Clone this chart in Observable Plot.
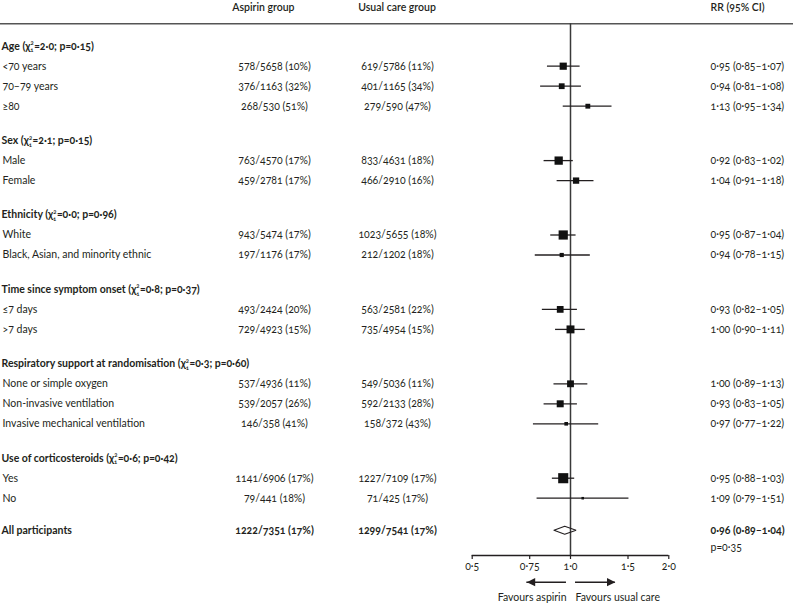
<!DOCTYPE html>
<html><head><meta charset="utf-8">
<script src="https://cdn.jsdelivr.net/npm/d3@7"></script>
<script src="https://cdn.jsdelivr.net/npm/@observablehq/plot@0.6"></script>
<style>
html,body{margin:0;padding:0;background:#fff;}
#chart svg{display:block;}
#chart svg text{font-variant-numeric:oldstyle-nums;}
</style></head><body><div id="chart"></div>
<script>
// ---------------- data ----------------
const columnHeaders = ["Aspirin group", "Usual care group", "RR (95% CI)"];
const groupHeadings = [
  "Age (χ²₁=2·0; p=0·15)",
  "Sex (χ²₁=2·1; p=0·15)",
  "Ethnicity (χ²₁=0·0; p=0·96)",
  "Time since symptom onset (χ²₁=0·8; p=0·37)",
  "Respiratory support at randomisation (χ²₁=0·3; p=0·60)",
  "Use of corticosteroids (χ²₁=0·6; p=0·42)"
];
const subgroupLabels = [
  ["<70 years", "70–79 years", "≥80"],
  ["Male", "Female"],
  ["White", "Black, Asian, and minority ethnic"],
  ["≤7 days", ">7 days"],
  ["None or simple oxygen", "Non-invasive ventilation", "Invasive mechanical ventilation"],
  ["Yes", "No"]
];
const aspirinEvents = [[578, 376, 268], [763, 459], [943, 197], [493, 729], [537, 539, 146], [1141, 79]];
const aspirinTotals = [[5658, 1163, 530], [4570, 2781], [5474, 1176], [2424, 4923], [4936, 2057, 358], [6906, 441]];
const aspirinPct    = [[10, 32, 51], [17, 17], [17, 17], [20, 15], [11, 26, 41], [17, 18]];
const usualEvents   = [[619, 401, 279], [833, 466], [1023, 212], [563, 735], [549, 592, 158], [1227, 71]];
const usualTotals   = [[5786, 1165, 590], [4631, 2910], [5655, 1202], [2581, 4954], [5036, 2133, 372], [7109, 425]];
const usualPct      = [[11, 34, 47], [18, 16], [18, 18], [22, 15], [11, 28, 43], [17, 17]];
const rrEstimate    = [[0.95, 0.94, 1.13], [0.92, 1.04], [0.95, 0.94], [0.93, 1.00], [1.00, 0.93, 0.97], [0.95, 1.09]];
const rrLower       = [[0.85, 0.81, 0.95], [0.83, 0.91], [0.87, 0.78], [0.82, 0.90], [0.89, 0.83, 0.77], [0.88, 0.79]];
const rrUpper       = [[1.07, 1.08, 1.34], [1.02, 1.18], [1.04, 1.15], [1.05, 1.11], [1.13, 1.05, 1.22], [1.03, 1.51]];

const overallLabel = "All participants";
const overallAspirin = [1222, 7351, 17];   // events, total, %
const overallUsual = [1299, 7541, 17];
const overallRR = [0.96, 0.89, 1.04];      // estimate, lower, upper
const overallP = "p=0·35";

const xTicks = [0.5, 0.75, 1, 1.5, 2];
const xTickLabels = ["0·5", "0·75", "1·0", "1·5", "2·0"];
const favoursLabels = ["Favours aspirin", "Favours usual care"];
const favoursArrowFrom = [0.972, 1.036];
const favoursArrowTo = [0.735, 1.372];

// ---------------- layout ----------------
const W = 793, H = 603;
const mL = 471.7, mR = 124.7, mT = 23.3, mB = 48;
const rowPx = 20, firstRowPx = 45.7;
const groupGap = 1.72, overallGap = 1.6;
const yDomain = [(mT - firstRowPx) / rowPx, (H - mB - firstRowPx) / rowPx];
const toU = px => (px - firstRowPx) / rowPx;
const ink = "#231f20";
const fmt = v => v.toFixed(2).replace(".", "·");
const fs = 10.5;

const headings = [], rows = [];
let u = 0;
groupHeadings.forEach((h, gi) => {
  if (gi > 0) u += groupGap;
  headings.push({u, label: h});
  subgroupLabels[gi].forEach((lab, si) => {
    u += 1;
    rows.push({
      u, label: lab,
      asp: `${aspirinEvents[gi][si]}/${aspirinTotals[gi][si]} (${aspirinPct[gi][si]}%)`,
      usu: `${usualEvents[gi][si]}/${usualTotals[gi][si]} (${usualPct[gi][si]}%)`,
      rr: rrEstimate[gi][si], lo: rrLower[gi][si], hi: rrUpper[gi][si],
      events: aspirinEvents[gi][si] + usualEvents[gi][si],
      rrText: `${fmt(rrEstimate[gi][si])} (${fmt(rrLower[gi][si])}–${fmt(rrUpper[gi][si])})`
    });
  });
});
const uAll = u + overallGap;
const overall = [{
  u: uAll, label: overallLabel,
  asp: `${overallAspirin[0]}/${overallAspirin[1]} (${overallAspirin[2]}%)`,
  usu: `${overallUsual[0]}/${overallUsual[1]} (${overallUsual[2]}%)`,
  rrText: `${fmt(overallRR[0])} (${fmt(overallRR[1])}–${fmt(overallRR[2])})`
}];
const dh = 0.2;
const diamond = [
  {x: overallRR[1], y: uAll}, {x: overallRR[0], y: uAll - dh},
  {x: overallRR[2], y: uAll}, {x: overallRR[0], y: uAll + dh},
  {x: overallRR[1], y: uAll}
];
const headerU = toU(7.5);
const arrowU = toU(581.7);
const favU = toU(597);
const arrows = favoursLabels.map((l, i) => ({label: l, from: favoursArrowFrom[i], to: favoursArrowTo[i]}));

const headRight = {draw(ctx, size) { const l = Math.sqrt(size); ctx.moveTo(0, 0); ctx.lineTo(-l, -l / 2); ctx.lineTo(-l, l / 2); ctx.closePath(); }};
const headLeft = {draw(ctx, size) { const l = Math.sqrt(size); ctx.moveTo(0, 0); ctx.lineTo(l, -l / 2); ctx.lineTo(l, l / 2); ctx.closePath(); }};

const colAsp = 274 - mL, colUsu = 397 - mL, colLab = 2 - mL, colRR = 710 - (W - mR);

// stack the χ² superscript over the ₁ subscript in the group headings
function stackChi(index, scales, values, dimensions, context, next) {
  const g = next(index, scales, values, dimensions, context);
  const ns = "http://www.w3.org/2000/svg";
  g.querySelectorAll("text").forEach(t => {
    const s = t.textContent;
    const k = s.indexOf("²₁");
    if (k < 0) return;
    t.textContent = s.slice(0, k);
    const sup = document.createElementNS(ns, "tspan");
    sup.setAttribute("dy", "-4.4"); sup.setAttribute("font-size", "6"); sup.textContent = "2";
    const sub = document.createElementNS(ns, "tspan");
    sub.setAttribute("dx", "-3.4"); sub.setAttribute("dy", "7.3"); sub.setAttribute("font-size", "6"); sub.textContent = "1";
    const rest = document.createElementNS(ns, "tspan");
    rest.setAttribute("dy", "-2.9"); rest.setAttribute("dx", "0.6"); rest.textContent = s.slice(k + 2);
    t.append(sup, sub, rest);
  });
  return g;
}

const chart = Plot.plot({
  width: W, height: H,
  marginLeft: mL, marginRight: mR, marginTop: mT, marginBottom: mB,
  style: {fontFamily: "Lato, 'Open Sans', sans-serif", fontSize: fs + "px", color: ink, background: "#fff"},
  x: {type: "log", domain: [0.5, 2]},
  y: {domain: yDomain, reverse: true, axis: null},
  r: {type: "sqrt", domain: [0, d3.max(rows, d => d.events)], range: [0, 5.7]},
  marks: [
    // header rule spanning the whole width
    Plot.ruleY([yDomain[0]], {stroke: "#555", strokeWidth: 1.5, insetLeft: -mL, insetRight: -mR}),
    // line of no effect
    Plot.ruleX([1], {stroke: "#3a3a3a", strokeWidth: 1.5}),
    // axis line
    Plot.ruleY([yDomain[1]], {stroke: ink, strokeWidth: 1.3}),
    Plot.axisX({ticks: xTicks, tickFormat: d => xTickLabels[xTicks.indexOf(d)], tickSize: 4, tickPadding: 3, fontSize: fs, label: null, strokeWidth: 1.2}),
    // column headers
    Plot.text([columnHeaders[0]], {y: () => headerU, text: d => d, frameAnchor: "left", dx: 231.7 - mL, textAnchor: "start", fontWeight: 600, fontSize: fs}),
    Plot.text([columnHeaders[1]], {y: () => headerU, text: d => d, frameAnchor: "left", dx: 357.7 - mL, textAnchor: "start", fontWeight: 600, fontSize: fs}),
    Plot.text([columnHeaders[2]], {y: () => headerU, text: d => d, frameAnchor: "right", dx: colRR, textAnchor: "start", fontWeight: 600, fontSize: fs}),
    // group headings
    Plot.text(headings, {y: "u", text: "label", frameAnchor: "left", dx: colLab - 1, textAnchor: "start", fontWeight: "bold", fontSize: fs, render: stackChi}),
    // subgroup rows
    Plot.text(rows, {y: "u", text: "label", frameAnchor: "left", dx: colLab, textAnchor: "start", fontSize: fs}),
    Plot.text(rows, {y: "u", text: "asp", frameAnchor: "left", dx: colAsp, textAnchor: "middle", fontSize: fs}),
    Plot.text(rows, {y: "u", text: "usu", frameAnchor: "left", dx: colUsu, textAnchor: "middle", fontSize: fs}),
    Plot.text(rows, {y: "u", text: "rrText", frameAnchor: "right", dx: colRR, textAnchor: "start", fontSize: fs}),
    // overall row
    Plot.text(overall, {y: "u", text: "label", frameAnchor: "left", dx: colLab - 1, textAnchor: "start", fontWeight: "bold", fontSize: fs}),
    Plot.text(overall, {y: "u", text: "asp", frameAnchor: "left", dx: colAsp, textAnchor: "middle", fontWeight: "bold", fontSize: fs}),
    Plot.text(overall, {y: "u", text: "usu", frameAnchor: "left", dx: colUsu, textAnchor: "middle", fontWeight: "bold", fontSize: fs}),
    Plot.text(overall, {y: "u", text: "rrText", frameAnchor: "right", dx: colRR, textAnchor: "start", fontWeight: "bold", fontSize: fs}),
    Plot.text([overallP], {y: () => uAll + 0.87, text: d => d, frameAnchor: "right", dx: colRR, textAnchor: "start", fontSize: fs}),
    // confidence intervals and point estimates
    Plot.ruleY(rows, {y: "u", x1: "lo", x2: "hi", stroke: ink, strokeWidth: 1.3}),
    Plot.dot(rows, {x: "rr", y: "u", r: "events", symbol: "square", fill: "#111", stroke: "none"}),
    // overall diamond
    Plot.line(diamond, {x: "x", y: "y", stroke: ink, strokeWidth: 1.1, strokeLinejoin: "miter", fill: "none"}),
    // favours arrows
    Plot.ruleY(arrows, {x1: "from", x2: "to", y: () => arrowU, stroke: ink, strokeWidth: 1.6}),
    Plot.dot(arrows.slice(0, 1), {x: "to", y: () => arrowU, symbol: headLeft, r: 4.7, fill: ink, stroke: "none"}),
    Plot.dot(arrows.slice(1), {x: "to", y: () => arrowU, symbol: headRight, r: 4.7, fill: ink, stroke: "none"}),
    Plot.text(arrows.slice(0, 1), {x: () => 1, y: () => favU, text: "label", textAnchor: "end", dx: -4, fontSize: fs}),
    Plot.text(arrows.slice(1), {x: () => 1, y: () => favU, text: "label", textAnchor: "start", dx: 5, fontSize: fs})
  ]
});
document.getElementById("chart").appendChild(chart);
</script></body></html>
